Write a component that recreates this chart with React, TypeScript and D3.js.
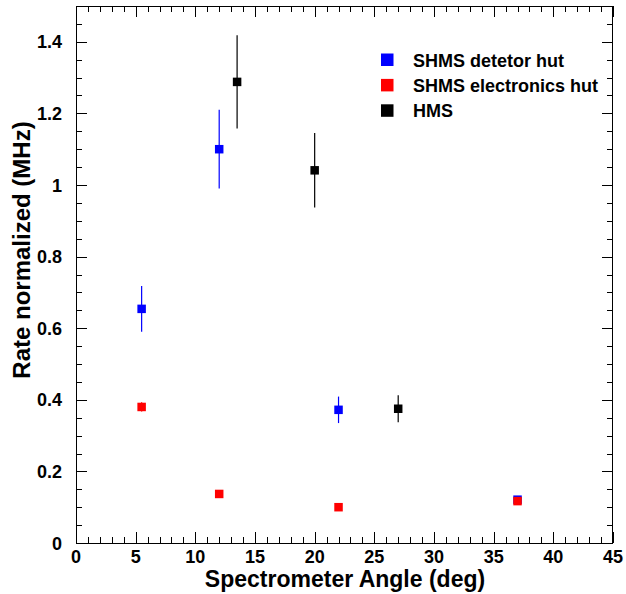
import React from "react";
import * as d3 from "d3";

const seriesNames = ["SHMS detetor hut", "SHMS electronics hut", "HMS"];
const seriesColors = ["#0000ff", "#ff0000", "#000000"];

const shmsDetAngle = [5.5, 12, 22, 37];
const shmsDetRate = [0.654, 1.1, 0.372, 0.121];
const shmsDetErr = [0.064, 0.11, 0.037, 0.004];

const shmsElecAngle = [5.5, 12, 22, 37];
const shmsElecRate = [0.38, 0.137, 0.1, 0.117];
const shmsElecErr = [0.013, 0.005, 0.004, 0.004];

const hmsAngle = [13.5, 20, 27];
const hmsRate = [1.288, 1.041, 0.375];
const hmsErr = [0.13, 0.104, 0.038];

const xTicks = [0, 5, 10, 15, 20, 25, 30, 35, 40, 45];
const yTicks = [0, 0.2, 0.4, 0.6, 0.8, 1, 1.2, 1.4];

const W = 626, H = 594;
const L = 76, R = 613, T = 6, B = 543;

export default function App() {
  const x = d3.scaleLinear().domain([0, 45]).range([L, R]);
  const y = d3.scaleLinear().domain([0, 1.5]).range([B, T]);

  const series = [
    { a: shmsDetAngle, v: shmsDetRate, e: shmsDetErr },
    { a: shmsElecAngle, v: shmsElecRate, e: shmsElecErr },
    { a: hmsAngle, v: hmsRate, e: hmsErr },
  ];

  const xMinor = d3.range(0, 45.01, 1);
  const yMinor = d3.range(0, 1.5001, 0.05);
  const font = "Liberation Sans, Arial, Helvetica, sans-serif";

  return (
    <svg width={W} height={H} style={{ position: "absolute", left: 0, top: 0, background: "#fff" }} fontFamily={font}>
      <rect x={0} y={0} width={W} height={H} fill="#fff" />
      {/* ticks */}
      <g stroke="#000" strokeWidth={1}>
        {xMinor.map((t, i) => {
          const major = Math.abs(t % 5) < 1e-6;
          const len = major ? 11 : 6;
          const px = Math.round(x(t)) + 0.5;
          return (
            <g key={"xt" + i}>
              <line x1={px} x2={px} y1={B} y2={B - len} />
              <line x1={px} x2={px} y1={T} y2={T + len} />
            </g>
          );
        })}
        {yMinor.map((t, i) => {
          const major = Math.abs(t / 0.2 - Math.round(t / 0.2)) < 1e-6;
          const len = major ? 11 : 6;
          const py = Math.round(y(t)) + 0.5;
          return (
            <g key={"yt" + i}>
              <line x1={L} x2={L + len} y1={py} y2={py} />
              <line x1={R} x2={R - len} y1={py} y2={py} />
            </g>
          );
        })}
        <rect x={L + 0.5} y={T + 0.5} width={R - L - 1} height={B - T} fill="none" />
      </g>
      {/* tick labels */}
      <g fontWeight="bold" fontSize={18} fill="#000">
        {xTicks.map((t) => (
          <text key={"xl" + t} x={x(t)} y={563} textAnchor="middle">{d3.format("d")(t)}</text>
        ))}
        {yTicks.map((t) => (
          <text key={"yl" + t} x={62} y={y(t) + 6.5} textAnchor="end">{t === 0 || t === 1 ? String(t) : t.toFixed(1)}</text>
        ))}
      </g>
      {/* axis titles */}
      <text x={345} y={587} textAnchor="middle" fontWeight="bold" fontSize={23}>Spectrometer Angle (deg)</text>
      <text transform={`translate(29.5,250) rotate(-90)`} textAnchor="middle" fontWeight="bold" fontSize={24}>Rate normalized (MHz)</text>
      {/* data */}
      {series.map((s, si) => (
        <g key={"s" + si}>
          {s.a.map((a, i) => {
            const cx = x(a), cy = y(s.v[i]);
            return (
              <g key={i}>
                <line x1={cx} x2={cx} y1={y(s.v[i] + s.e[i])} y2={y(s.v[i] - s.e[i])} stroke={seriesColors[si]} strokeWidth={1.2} />
                <rect x={cx - 4.25} y={cy - 4.25} width={8.5} height={8.5} fill={seriesColors[si]} />
              </g>
            );
          })}
        </g>
      ))}
      {/* legend */}
      {seriesNames.map((n, i) => (
        <g key={"lg" + i}>
          <rect x={381} y={53.5 + i * 25.4} width={12.5} height={12.5} fill={seriesColors[i]} />
          <text x={413} y={66.5 + i * 25.4} fontWeight="bold" fontSize={18}>{n}</text>
        </g>
      ))}
    </svg>
  );
}
